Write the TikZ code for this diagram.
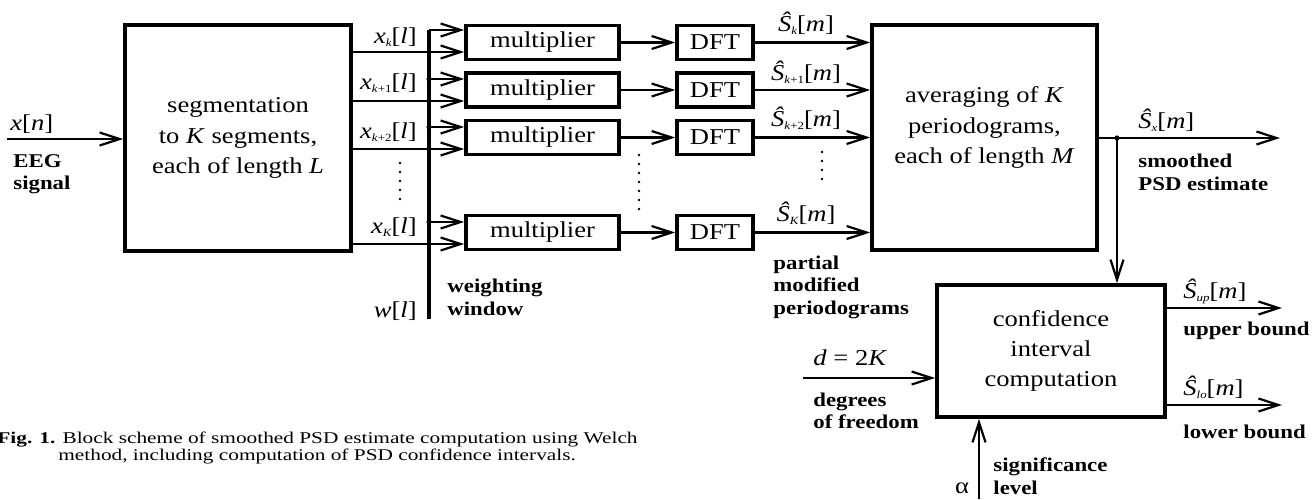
\documentclass[tikz,border=0pt]{standalone}
\usepackage{fontspec}
\setmainfont[FakeStretch=1.17]{Liberation Serif}
\newfontfamily\capfont[FakeStretch=1.3]{Liberation Serif}
\usetikzlibrary{arrows.meta,calc}
\newcommand{\bx}{\fontsize{11.35}{15.2}\selectfont}
\newcommand{\lb}{\fontsize{9.75}{11.25}\selectfont\bfseries}
\newcommand{\sbs}[1]{\raisebox{-1.8pt}{\fontsize{5.5}{6}\selectfont\itshape #1}}
\newcommand{\Sh}{\textit{Ŝ}}
\begin{document}
\begin{tikzpicture}[x=0.5pt,y=-0.5pt,
  box/.style={draw,line width=1.8pt,inner sep=0pt,align=center,font=\bx},
  conn/.style={line width=1.1pt},
  arr/.style={conn,-{Straight Barb[length=10pt,width=6.5pt]}},
  lab/.style={inner sep=0pt,font=\bx},
  blab/.style={inner sep=0pt,font=\lb,align=left,anchor=west},
  dot/.style={circle,fill,inner sep=0pt,minimum size=2.6pt},
  vdots/.style={line width=1.3pt,line cap=round,dash pattern=on 0pt off 4.5pt},
  bus/.style={line width=1.6pt}]
\useasboundingbox (0,0) rectangle (1316,499);

% blocks
\node[box,minimum width=113pt,minimum height=113pt] (seg) at (238,138)
  {segmentation\\to \textit{K} segments,\\each of length \textit{L}};
\node[box,minimum width=76.5pt,minimum height=17pt] (m1) at (542.5,42.5) {multiplier};
\node[box,minimum width=76.5pt,minimum height=17pt] (m2) at (542.5,90) {multiplier};
\node[box,minimum width=76.5pt,minimum height=17pt] (m3) at (542.5,137.5) {multiplier};
\node[box,minimum width=76.5pt,minimum height=17pt] (m4) at (542.5,232.5) {multiplier};
\node[box,minimum width=38pt,minimum height=17pt] (d1) at (715,42.5) {DFT};
\node[box,minimum width=38pt,minimum height=17pt] (d2) at (715,90) {DFT};
\node[box,minimum width=38pt,minimum height=17pt] (d3) at (715,137.5) {DFT};
\node[box,minimum width=38pt,minimum height=17pt] (d4) at (715,232.5) {DFT};
\node[box,minimum width=112.5pt,minimum height=112.5pt] (avg) at (984.5,137.5) {};
\node[lab,align=center] (avgtext) at (984.5,127.5)
  {averaging of \textit{K}\\periodograms,\\each of length \textit{M}};
\node[box,minimum width=114pt,minimum height=66pt] (conf) at (1051,351)
  {confidence\\interval\\computation};

% input
\coordinate (xin) at (7,139);
\draw[arr] (xin) -- (xin -| seg.west);
\node[lab,anchor=base west] (xn) at (10,130) {\textit{x}[\textit{n}]};
\node[blab] (eeg) at (13,174) {EEG\\signal};

% weighting bus
\coordinate (bustop) at (429,30);
\coordinate (busbot) at (429,319);
\coordinate (b2) at (429,79);
\coordinate (b3) at (429,127);
\coordinate (b4) at (429,222);
\draw[bus] (busbot) -- (bustop);
\draw[arr] (bustop) -- (bustop -| m1.west);
\draw[arr] (b2) -- (b2 -| m2.west);
\draw[arr] (b3) -- (b3 -| m3.west);
\draw[arr] (b4) -- (b4 -| m4.west);
\node[dot] (db2) at (b2) {};
\node[dot] (db3) at (b3) {};
\node[dot] (db4) at (b4) {};

% segment signals
\coordinate (l1) at (429,52);
\coordinate (l2) at (429,101);
\coordinate (l3) at (429,149);
\coordinate (l4) at (429,244);
\draw[arr] (seg.east |- l1) -- (l1 -| m1.west);
\draw[arr] (seg.east |- l2) -- (l2 -| m2.west);
\draw[arr] (seg.east |- l3) -- (l3 -| m3.west);
\draw[arr] (seg.east |- l4) -- (l4 -| m4.west);
\node[lab,anchor=base east] (xk1) at (417,43) {\textit{x}\sbs{k}[\textit{l}]};
\node[lab,anchor=base east] (xk2) at (417,89) {\textit{x}\sbs{k\textup{+1}}[\textit{l}]};
\node[lab,anchor=base east] (xk3) at (417,138) {\textit{x}\sbs{k\textup{+2}}[\textit{l}]};
\node[lab,anchor=base east] (xk4) at (417,233) {\textit{x}\sbs{K}[\textit{l}]};
\draw[vdots] (400,163) -- (400,200);
\node[lab,anchor=base east] (wl) at (417,317) {\textit{w}[\textit{l}]};
\node[blab] (ww) at (447,297.5) {weighting\\window};

% multiplier -> DFT -> averaging
\draw[arr] (m1.east) -- (d1.west);
\draw[arr] (m2.east) -- (d2.west);
\draw[arr] (m3.east) -- (d3.west);
\draw[arr] (m4.east) -- (d4.west);
\draw[vdots] (639,155) -- (639,218);
\draw[arr] (d1.east) -- (d1.east -| avg.west);
\draw[arr] (d2.east) -- (d2.east -| avg.west);
\draw[arr] (d3.east) -- (d3.east -| avg.west);
\draw[arr] (d4.east) -- (d4.east -| avg.west);
\draw[vdots] (822,152) -- (822,188);
\node[lab,anchor=base] (s1) at (806,31) {\Sh\sbs{k}[\textit{m}]};
\node[lab,anchor=base] (s2) at (806,80) {\Sh\sbs{k\textup{+1}}[\textit{m}]};
\node[lab,anchor=base] (s3) at (806,126) {\Sh\sbs{k\textup{+2}}[\textit{m}]};
\node[lab,anchor=base] (s4) at (806,221) {\Sh\sbs{K}[\textit{m}]};
\node[blab] (pmp) at (773,287) {partial\\modified\\periodograms};

% output
\coordinate (sxend) at (1280,138);
\coordinate (sxdot) at (1117,138);
\draw[arr] (avg.east |- sxend) -- (sxend);
\node[dot] (dsx) at (sxdot) {};
\draw[arr] (sxdot) -- (sxdot |- conf.north);
\node[lab,anchor=base west] (sx) at (1138,128) {\Sh\sbs{x}[\textit{m}]};
\node[blab] (spsd) at (1138,172.5) {smoothed\\PSD estimate};

% confidence interval
\coordinate (upend) at (1282,308);
\coordinate (loend) at (1282,405);
\draw[arr] (conf.east |- upend) -- (upend);
\draw[arr] (conf.east |- loend) -- (loend);
\node[lab,anchor=base west] (sup) at (1183,298) {\Sh\sbs{up}[\textit{m}]};
\node[blab] (ub) at (1183,331) {upper bound};
\node[lab,anchor=base west] (slo) at (1183,395) {\Sh\sbs{lo}[\textit{m}]};
\node[blab] (lob) at (1183,432) {lower bound};

\coordinate (dstart) at (803,378);
\draw[arr] (dstart) -- (dstart -| conf.west);
\node[lab,anchor=base west] (dk) at (813,365) {\textit{d} = 2\textit{K}};
\node[blab] (dof) at (813,411) {degrees\\of freedom};

\coordinate (astart) at (979,499);
\draw[arr] (astart) -- (astart |- conf.south);
\node[lab,anchor=base] (al) at (962,493) {α};
\node[blab] (sig) at (993,476) {significance\\level};

% caption
\node[inner sep=0pt,anchor=base west,font=\capfont\fontsize{8.2}{9.2}\selectfont] (cap1) at (-3,443)
  {\textbf{Fig. 1.} Block scheme of smoothed PSD estimate computation using Welch};
\node[inner sep=0pt,anchor=base west,font=\capfont\fontsize{8.2}{9.2}\selectfont] (cap2) at (58,460)
  {method, including computation of PSD confidence intervals.};
\end{tikzpicture}
\end{document}
